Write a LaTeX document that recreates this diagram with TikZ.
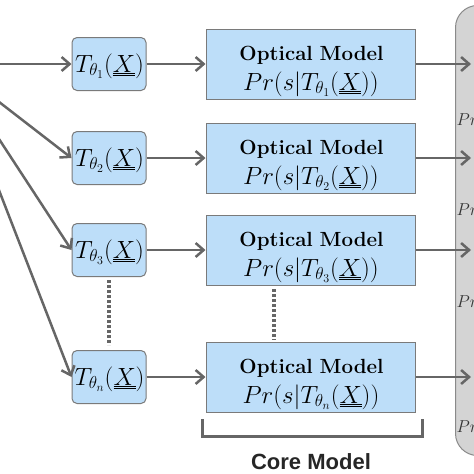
\documentclass[tikz,border=0pt]{standalone}
\usepackage{fontspec}
\newfontfamily\corefont{Liberation Sans}
\usetikzlibrary{arrows.meta}
\definecolor{boxblue}{HTML}{BDDEF9}
\definecolor{boxline}{HTML}{7A7A7A}
\definecolor{arr}{HTML}{666666}
\definecolor{panelfill}{HTML}{D4D4D4}
\definecolor{panelline}{HTML}{8A8A8A}
\begin{document}
\begin{tikzpicture}[x=1pt,y=-1pt,
  tbox/.style={draw=boxline, fill=boxblue, rounded corners=5pt, minimum width=74pt,
    minimum height=53pt, line width=1pt, inner sep=0pt},
  ombox/.style={draw=boxline, fill=boxblue, minimum width=209pt, minimum height=70pt,
    line width=1pt, inner sep=0pt},
  tmath/.style={inner sep=0pt, anchor=base, font=\fontsize{23}{27}\selectfont},
  ommath/.style={inner sep=0pt, anchor=base, font=\fontsize{25.5}{30}\selectfont},
  boldtxt/.style={inner sep=0pt, anchor=base, font=\fontsize{20.5}{24}\selectfont\bfseries},
  conn/.style={draw=arr, line width=2.5pt, -{Straight Barb[length=8pt,width=14pt]}},
  dotline/.style={draw=arr, line width=4pt, dash pattern=on 3pt off 2pt},
  bracket/.style={draw=arr, line width=3pt},
  prtxt/.style={inner sep=0pt, anchor=base west, text=black!80, font=\fontsize{18}{22}\selectfont},
]
\useasboundingbox (0,0) rectangle (474,474);
\clip (0,0) rectangle (474,474);

% right panel
\node[draw=panelline, fill=panelfill, line width=1pt, rounded corners=22pt,
  minimum width=80pt, minimum height=450pt, anchor=north west, inner sep=0pt] (panel) at (455,5) {};
\node[prtxt] (pr1) at (456.5,125) {$Pr$};
\node[prtxt] (pr2) at (456.5,215) {$Pr$};
\node[prtxt] (pr3) at (456.5,307) {$Pr$};
\node[prtxt] (pr4) at (456.5,432) {$Pr$};

% source
\coordinate (src) at (-50,64);

% T boxes
\node[tbox] (t1) at (109,64) {};
\node[tbox] (t2) at (109,158) {};
\node[tbox] (t3) at (109,250) {};
\node[tbox] (tn) at (109,377) {};
\node[tmath] (t1l) at (109.5,72) {$T_{\theta_1}(\underline{\underline{X}})$};
\node[tmath] (t2l) at (109.5,166) {$T_{\theta_2}(\underline{\underline{X}})$};
\node[tmath] (t3l) at (109.5,258) {$T_{\theta_3}(\underline{\underline{X}})$};
\node[tmath] (tnl) at (109.5,385) {$T_{\theta_n}(\underline{\underline{X}})$};

% optical model boxes
\foreach \n/\y/\s in {1/64/1, 2/158/2, 3/250/3, n/377/n} {
  \node[ombox] (om\n) at (310.5,\y) {};
  \node[boldtxt] (omb\n) at (311.5,\y-4) {Optical\,\,Model};
  \node[ommath] (omm\n) at (311,\y+26) {$Pr(s|T_{\theta_{\s}}(\underline{\underline{X}}))$};
}

% input arrows
\draw[conn] (src) -- (t1.west);
\draw[conn] (src) -- (t2.west);
\draw[conn] (src) -- (t3.west);
\draw[conn] (src) -- (tn.west);

% T -> OM
\foreach \n in {1,2,3,n} {
  \draw[conn] (t\n.east) -- (om\n.west);
}

% OM -> panel
\foreach \n in {1,2,3,n} {
  \coordinate (e\n) at (471, 0 |- om\n.east);
  \draw[conn] (om\n.east) -- (e\n);
}

% dotted continuations
\draw[dotline, shorten <=3pt, shorten >=5pt] (t3.south) -- (tn.north);
\coordinate (d1) at (274,289);
\coordinate (d2) at (274,340);
\draw[dotline] (d1) -- (d2);

% bracket
\coordinate (b1) at (202,419);
\coordinate (b2) at (202,436);
\coordinate (b3) at (422,436);
\coordinate (b4) at (422,419);
\draw[bracket] (b1) -- (b2) -- (b3) -- (b4);
\node[inner sep=0pt, font=\corefont\bfseries\fontsize{22}{26}\selectfont, text=black!85] (core) at (311,462) {Core Model};
\end{tikzpicture}
\end{document}
